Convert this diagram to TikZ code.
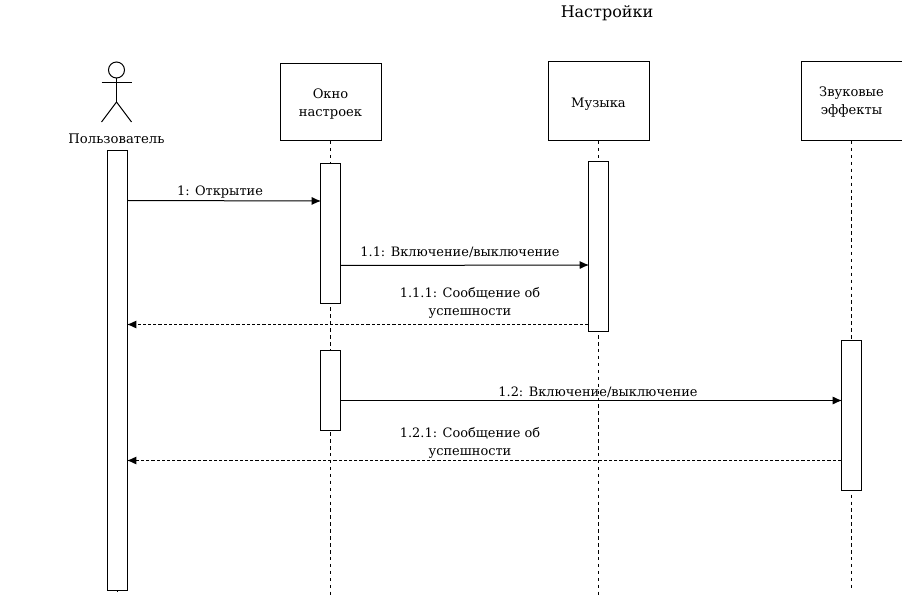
\documentclass[tikz,border=0pt]{standalone}
\usepackage{fontspec}
\setmainfont{DejaVu Serif}
\usetikzlibrary{backgrounds,arrows.meta}
\tikzset{every picture/.style={line width=0.75pt}}
\tikzset{
  headbox/.style={draw,fill=white,minimum width=75.75pt,inner sep=0pt,align=center,font=\fontsize{9.8}{13.5}\selectfont},
  headtext/.style={inner sep=0pt,align=center,font=\fontsize{9.8}{13.5}\selectfont},
  actbar/.style={draw,fill=white,minimum width=15pt,inner sep=0pt},
  lifeline/.style={dash pattern={on 2.6pt off 2.6pt}},
  msg/.style={-{Latex[length=7pt,width=6pt]},shorten >=-0.8pt},
  reply/.style={-{Latex[length=7pt,width=6pt]},shorten >=-0.8pt,dash pattern={on 2.4pt off 1.5pt}},
  msgtext/.style={inner sep=0pt,align=center,font=\fontsize{9.7}{13.5}\selectfont}
}
\begin{document}
\begin{tikzpicture}[x=0.75pt,y=0.75pt,yscale=-1,xscale=1]
\useasboundingbox (0,0) rectangle (902,595);

% Title
\node (title) [font=\fontsize{12}{14}\selectfont,inner sep=0pt] at (607,13) {Настройки};

% Actor
\node (head) [draw,circle,minimum size=12pt,inner sep=0pt] at (116.5,70) {};
\coordinate (hip) at (116.5,102);
\draw (head.south) -- (hip);
\coordinate (armL) at (101.5,82.5);
\coordinate (armR) at (131.5,82.5);
\draw (armL) -- (armR);
\coordinate (legL) at (101.5,122);
\coordinate (legR) at (131.5,122);
\draw (legL) -- (hip) -- (legR);
\node (user) [font=\fontsize{9.9}{11}\selectfont,inner sep=0pt] at (116.5,138.5) {Пользователь};

% Head boxes
\node (boxOkno) [headbox,minimum height=57.75pt] at (330.5,102) {};
\node (boxMusic) [headbox,minimum height=59.25pt] at (598.5,101) {};
\node (boxSound) [headbox,minimum height=59.25pt] at (851.5,101) {};
\node (txtOkno) [headtext] at (330.5,104) {Окно\\настроек};
\node (txtMusic) [headtext] at (598.5,104) {Музыка};
\node (txtSound) [headtext] at (851.5,102) {Звуковые\\эффекты};

% Activation bars
\node (actUser) [actbar,minimum height=330pt] at (117.5,370.5) {};
\node (actOkno) [actbar,minimum height=105pt] at (330.5,233.5) {};
\node (actOknoB) [actbar,minimum height=60pt] at (330.5,390.5) {};
\node (actMusic) [actbar,minimum height=127.5pt] at (598.5,246.5) {};
\node (actSound) [actbar,minimum height=112.5pt] at (851.5,415) {};

% Lifelines
\coordinate (endUser) at (117.5,592);
\coordinate (endOkno) at (330.5,595);
\coordinate (endMusic) at (598.5,595);
\coordinate (endSound) at (851.5,590);
\begin{scope}[on background layer]
\draw [lifeline] (boxOkno.south) -- (endOkno);
\draw [lifeline] (boxMusic.south) -- (endMusic);
\draw [lifeline] (boxSound.south) -- (endSound);
\draw (actUser.south) -- (endUser);
\end{scope}

% Messages
\draw [msg] (actUser.east |- 0,200.5) -- (actOkno.west |- 0,201);
\draw [msg] (actOkno.east |- 0,265.5) -- (actMusic.west |- 0,265);
\draw [reply] (actMusic.west |- 0,324.5) -- (actUser.east |- 0,324.5);
\draw [msg] (actOknoB.east |- 0,400.5) -- (actSound.west |- 0,400.5);
\draw [reply] (actSound.west |- 0,460.5) -- (actUser.east |- 0,460.5);

% Text Node
\node (lblOpen) [msgtext] at (220,192.5) {1: Открытие};
\node (lblMusic) [msgtext] at (460,252.5) {1.1: Включение/выключение};
\node (lblOkMusic) [msgtext] at (470,302.5) {1.1.1: Сообщение об\\успешности};
\node (lblSound) [msgtext] at (598,392.5) {1.2: Включение/выключение};
\node (lblOkSound) [msgtext] at (470,442.5) {1.2.1: Сообщение об\\успешности};
\end{tikzpicture}
\end{document}
